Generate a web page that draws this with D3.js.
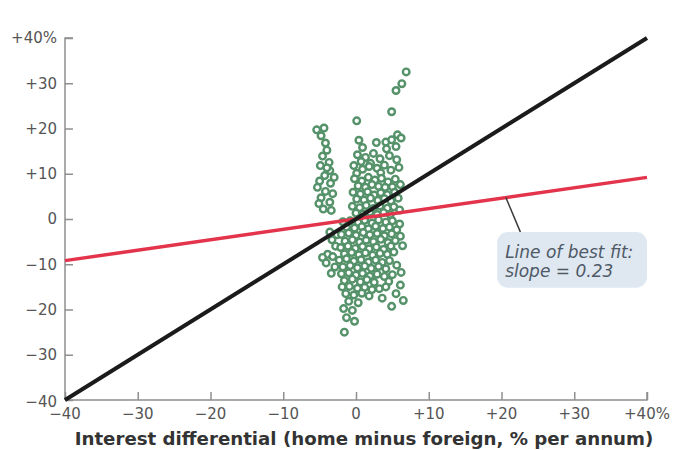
<!DOCTYPE html>
<html>
<head>
<meta charset="utf-8">
<script src="https://cdn.jsdelivr.net/npm/d3@7"></script>
<style>
  body { margin: 0; background: #fff; }
  svg { display: block; }
</style>
</head>
<body>
<div id="chart"></div>
<script>
// tick values for both axes
const tickValues = [-40, -30, -20, -10, 0, 10, 20, 30, 40];

// slope of the line of best fit
const fitSlope = 0.23;

// observations: [interest differential, depreciation], in %
const leftColumn = [
  [-5.4, 19.7], [-4.4, 20.1], [-4.8, 18.4], [-4.2, 16.8], [-4.0, 15.2], [-4.6, 13.9],
  [-3.7, 12.5], [-4.9, 11.8], [-3.6, 10.7], [-4.3, 9.6], [-5.0, 8.4], [-3.5, 7.9],
  [-5.3, 7.0], [-4.2, 6.1], [-3.2, 5.6], [-4.8, 4.7], [-3.6, 3.7], [-4.5, 2.2],
  [-3.4, 1.9], [-5.1, 3.4], [-3.0, 9.2], [-4.0, 11.3],
  [-3.6, -2.9], [-3.3, -4.6], [-3.9, -7.8], [-4.6, -8.5], [-3.2, -8.3], [-4.1, -9.7],
  [-2.9, -10.6], [-3.4, -12.0], [-2.6, -3.5], [-2.8, -6.0]
];

const topPoints = [
  [6.9, 32.5], [6.3, 29.9], [5.5, 28.4], [4.9, 23.7], [0.1, 21.7],
  [0.4, 17.4], [2.8, 16.9], [4.1, 17.0], [4.9, 17.5], [5.7, 18.6], [6.2, 17.9],
  [0.9, 15.8], [4.2, 15.5], [5.5, 16.0]
];

const upperCluster = [
  [0.2, 14.2], [1.3, 13.6], [2.4, 14.5], [3.3, 13.3], [4.6, 14.0], [5.6, 13.1], [0.7, 12.7], [2.0, 12.3],
  [-0.3, 11.8], [0.9, 11.0], [1.8, 11.6], [2.9, 11.2], [3.9, 11.9], [4.8, 10.8], [5.9, 11.4], [0.1, 10.1], [3.4, 10.2],
  [-0.2, 8.9], [0.8, 8.4], [1.7, 9.2], [2.6, 8.6], [3.5, 9.0], [4.4, 8.2], [5.4, 8.8], [6.1, 7.6],
  [0.3, 7.3], [1.3, 7.0], [2.2, 7.6], [3.1, 7.2], [4.0, 7.0], [5.0, 7.1],
  [-0.4, 5.9], [0.6, 5.5], [1.6, 6.0], [2.5, 5.3], [3.4, 5.8], [4.3, 5.4], [5.3, 5.9],
  [0.1, 4.4], [1.1, 4.2], [2.0, 4.6], [3.0, 4.1], [3.9, 4.5], [4.8, 4.0], [5.8, 4.6],
  [-0.5, 2.8], [0.5, 2.5], [1.4, 3.0], [2.4, 2.3], [3.3, 2.9], [4.3, 2.4], [5.2, 2.7], [6.0, 2.0],
  [0.0, 1.3], [1.0, 1.1], [1.9, 1.5], [2.9, 1.0], [3.8, 1.4], [4.7, 1.0]
];

const lowerCluster = [
  [-1.8, -0.6], [-0.8, -0.4], [0.3, -0.8], [1.2, -0.3], [2.2, -0.9], [3.1, -0.2], [4.1, -0.7], [5.0, -0.4], [6.0, -1.1],
  [-1.3, -1.8], [-0.2, -2.0], [0.8, -1.7], [1.7, -2.2], [2.7, -1.6], [3.7, -2.1], [4.6, -1.8], [5.6, -2.4],
  [-2.0, -3.4], [-1.0, -3.1], [0.0, -3.6], [1.0, -3.0], [1.9, -3.5], [2.9, -3.2], [3.9, -3.7], [4.9, -3.3], [6.1, -3.8],
  [-1.5, -4.9], [-0.5, -4.6], [0.5, -5.1], [1.4, -4.7], [2.4, -5.0], [3.4, -4.5], [4.4, -5.2], [5.4, -4.8],
  [-2.1, -6.3], [-1.1, -6.0], [-0.1, -6.5], [0.9, -6.1], [1.8, -6.6], [2.8, -6.2], [3.8, -6.7], [4.8, -6.0], [6.4, -5.9],
  [-1.6, -7.7], [-0.6, -7.4], [0.4, -7.9], [1.3, -7.5], [2.3, -8.0], [3.3, -7.6], [4.3, -7.8], [5.2, -7.3],
  [-2.3, -9.1], [-1.3, -8.8], [-0.3, -9.3], [0.7, -9.0], [1.7, -9.5], [2.7, -9.1], [3.6, -9.6], [4.6, -9.2],
  [-1.8, -10.6], [-0.8, -10.3], [0.2, -10.8], [1.2, -10.4], [2.1, -10.9], [3.1, -10.5], [4.1, -11.0], [5.6, -10.2],
  [-2.0, -12.1], [-1.0, -11.9], [0.0, -12.4], [0.9, -12.0], [1.9, -12.6], [2.9, -12.2], [3.9, -12.7], [5.0, -12.3],
  [-1.6, -13.6], [-0.5, -13.3], [0.6, -13.9], [1.5, -13.4], [2.5, -14.0], [4.5, -13.8], [6.2, -11.8],
  [-1.9, -15.0], [-0.9, -14.9], [0.2, -15.3], [1.2, -15.1], [2.2, -15.6], [3.2, -15.4], [4.1, -15.0], [6.1, -14.6],
  [-1.4, -16.5], [-0.3, -16.8], [0.8, -16.4], [1.8, -17.0], [3.6, -17.5], [5.5, -16.5],
  [-1.0, -18.2], [0.3, -18.5], [4.9, -19.3], [6.5, -18.0],
  [-1.7, -19.8], [-0.5, -20.2], [-1.3, -21.8], [-0.2, -22.6], [-1.6, -25.0]
];

const points = [...leftColumn, ...topPoints, ...upperCluster, ...lowerCluster];

const config = {
  width: 674,
  height: 450,
  margin: { top: 38, right: 27, bottom: 50, left: 65 }
};

const svg = d3.select("#chart")
  .append("svg")
  .attr("width", config.width)
  .attr("height", config.height);

const x = d3.scaleLinear()
  .domain([-40, 40])
  .range([config.margin.left, config.width - config.margin.right]);

const y = d3.scaleLinear()
  .domain([-40, 40])
  .range([config.height - config.margin.bottom, config.margin.top]);

// "+10", "0", "−10" and a percent sign on the last label
const fmt = (d) => {
  let s = d > 0 ? "+" + d : d < 0 ? "\u2212" + Math.abs(d) : "0";
  if (d === 40) s += "%";
  return s;
};

const axisColor = "#8f8f8f";
const labelFont = "'DejaVu Sans', sans-serif";

// x axis, ticks point up into the plot
const xAxis = svg.append("g")
  .attr("transform", `translate(0,${y(-40)})`)
  .call(d3.axisTop(x).tickValues(tickValues).tickSize(8).tickFormat(""));
xAxis.select(".domain").attr("stroke", axisColor).attr("stroke-width", 1.5).attr("d", `M${x(-40)},0H${x(40)}V-8`);
xAxis.selectAll(".tick line").attr("stroke", axisColor).attr("stroke-width", 1.5);

svg.append("g")
  .selectAll("text")
  .data(tickValues)
  .join("text")
  .attr("x", (d) => x(d))
  .attr("y", y(-40) + 19)
  .attr("text-anchor", "middle")
  .attr("font-family", labelFont)
  .attr("font-size", 15)
  .attr("fill", "#555")
  .text(fmt);

// y axis, ticks point right into the plot
const yAxis = svg.append("g")
  .attr("transform", `translate(${x(-40)},0)`)
  .call(d3.axisRight(y).tickValues(tickValues).tickSize(8).tickFormat(""));
yAxis.select(".domain").attr("stroke", axisColor).attr("stroke-width", 1.5).attr("d", `M8,${y(40)}H0V${y(-40)}`);
yAxis.selectAll(".tick line").attr("stroke", axisColor).attr("stroke-width", 1.5);

svg.append("g")
  .selectAll("text")
  .data(tickValues)
  .join("text")
  .attr("x", x(-40) - 8)
  .attr("y", (d) => y(d) + (d === -40 ? 2 : 0))
  .attr("dy", "0.36em")
  .attr("text-anchor", "end")
  .attr("font-family", labelFont)
  .attr("font-size", 15)
  .attr("fill", "#555")
  .text(fmt);

// axis title
svg.append("text")
  .attr("x", (x(-40) + x(40)) / 2 + 8)
  .attr("y", config.height - 5)
  .attr("text-anchor", "middle")
  .attr("font-family", "'DejaVu Sans', sans-serif")
  .attr("font-weight", "bold")
  .attr("font-size", 18.2)
  .attr("fill", "#333")
  .text("Interest differential (home minus foreign, % per annum)");

// scatter of observations
svg.append("g")
  .selectAll("circle")
  .data(points)
  .join("circle")
  .attr("cx", (d) => x(d[0]))
  .attr("cy", (d) => y(d[1]))
  .attr("r", 3.3)
  .attr("fill", "#fff")
  .attr("stroke", "#55926a")
  .attr("stroke-width", 2.4);

// line of best fit
const line = d3.line().x((d) => x(d[0])).y((d) => y(d[1]));
svg.append("path")
  .datum([[-40, -40 * fitSlope], [40, 40 * fitSlope]])
  .attr("d", line)
  .attr("stroke", "#e3344c")
  .attr("stroke-width", 3.5)
  .attr("fill", "none");

// 45 degree line
svg.append("path")
  .datum([[-40, -40], [40, 40]])
  .attr("d", line)
  .attr("stroke", "#1b1b1b")
  .attr("stroke-width", 4)
  .attr("fill", "none");

// annotation
const noteX = 20.6;
svg.append("line")
  .attr("x1", x(noteX))
  .attr("y1", y(noteX * fitSlope))
  .attr("x2", x(22.6))
  .attr("y2", y(-2.9))
  .attr("stroke", "#3a3a3a")
  .attr("stroke-width", 1.5);

svg.append("rect")
  .attr("x", x(19.4))
  .attr("y", y(-2.9))
  .attr("width", x(40) - x(19.4))
  .attr("height", y(-15.2) - y(-2.9))
  .attr("rx", 11)
  .attr("fill", "#dfe7f1");

const note = svg.append("text")
  .attr("font-family", labelFont)
  .attr("font-style", "italic")
  .attr("font-size", 17)
  .attr("fill", "#4e5966");
note.append("tspan").attr("x", x(20.5)).attr("y", y(-8.6)).text("Line of best fit:");
note.append("tspan").attr("x", x(20.5)).attr("y", y(-12.9)).text("slope = 0.23");
</script>
</body>
</html>
